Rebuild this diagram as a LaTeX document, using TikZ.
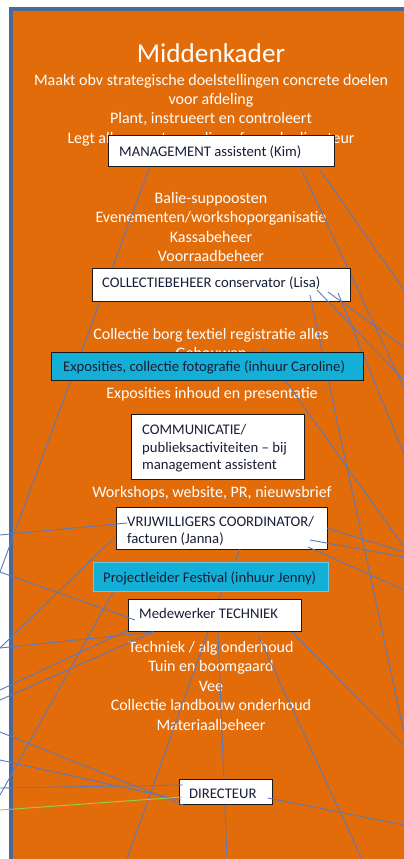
\documentclass[tikz,border=0pt]{standalone}
\usepackage{fontspec}
\setmainfont{Carlito}
\definecolor{bgorange}{RGB}{227,108,10}
\definecolor{frameblue}{RGB}{74,104,152}
\definecolor{connblue}{RGB}{88,122,190}
\definecolor{cyanbox}{RGB}{20,175,214}
\definecolor{cyanedge}{RGB}{100,205,235}
\definecolor{boxtext}{RGB}{25,30,55}
\definecolor{greenline}{RGB}{146,208,80}
\begin{document}
\begin{tikzpicture}[x=1pt,y=-1pt,
  wtxt/.style={text=white,font=\fontsize{16}{19}\selectfont,anchor=base,inner sep=0pt},
  ttl/.style={text=white,font=\fontsize{27.2}{30}\selectfont,anchor=base,inner sep=0pt},
  btxt/.style={text=boxtext,font=\fontsize{14.7}{17}\selectfont,anchor=base west,inner sep=0pt},
  wbox/.style={draw=black!90,fill=white,line width=1.2pt,anchor=north west,inner sep=0pt},
  cbox/.style={draw=black!90,fill=cyanbox,line width=1.2pt,anchor=north west,inner sep=0pt},
  cboxl/.style={draw=cyanedge,fill=cyanbox,line width=1pt,anchor=north west,inner sep=0pt},
  conn/.style={draw=connblue,line width=0.9pt},
  gconn/.style={draw=greenline,line width=0.9pt},
]
\useasboundingbox (0,0) rectangle (404,859);
\fill[white] (0,0) rectangle (404,859);
\path[fill=bgorange,draw=frameblue,line width=4pt] (10.5,9) rectangle (430,880);

% ---- texts
\node[ttl] (title) at (211,63) {Middenkader};
\node[wtxt] (m1) at (211,85) {Maakt obv strategische doelstellingen concrete doelen};
\node[wtxt] (m2) at (211,104.3) {voor afdeling};
\node[wtxt] (m3) at (211,123.6) {Plant, instrueert en controleert};
\node[wtxt] (m4) at (211,143) {Legt alle verantwoording af aan de directeur};
\node[wtxt] (b1) at (211,203) {Balie-suppoosten};
\node[wtxt] (b2) at (211,222.5) {Evenementen/workshoporganisatie};
\node[wtxt] (b3) at (211,242) {Kassabeheer};
\node[wtxt] (b4) at (211,261.5) {Voorraadbeheer};
\node[wtxt] (c1) at (211,339) {Collectie borg textiel registratie alles};
\node[wtxt] (c2) at (211,358.5) {Gebouwen};
\node[wtxt] (x1) at (212,398) {Exposities inhoud en presentatie};
\node[wtxt] (w1) at (212,497) {Workshops, website, PR, nieuwsbrief};
\node[wtxt] (tt1) at (211,652) {Techniek / alg onderhoud};
\node[wtxt] (tt2) at (211,671.5) {Tuin en boomgaard};
\node[wtxt] (tt3) at (211,691) {Vee};
\node[wtxt] (tt4) at (211,710.5) {Collectie landbouw onderhoud};
\node[wtxt] (tt5) at (211,730) {Materiaalbeheer};

% ---- connector points
\coordinate (k1) at (150,166); \coordinate (k2) at (300,166); \coordinate (k3) at (320,170);
\coordinate (oA) at (0,572); \coordinate (oB) at (404,388); \coordinate (oC) at (404,290);
\coordinate (l1) at (310,295); \coordinate (l2) at (317,290); \coordinate (l3) at (328,292); \coordinate (l4) at (338,293);
\coordinate (oD) at (404,733); \coordinate (oE) at (404,380); \coordinate (oF) at (404,347); \coordinate (oG) at (404,454);
\coordinate (e1) at (262,348); \coordinate (oH) at (404,547);
\coordinate (v1) at (127,523); \coordinate (v2) at (115,537); \coordinate (v3) at (240,549);
\coordinate (v4) at (327,528); \coordinate (v5) at (310,540); \coordinate (v6) at (308,547);
\coordinate (oI) at (404,552); \coordinate (oJ) at (404,557); \coordinate (oK) at (404,590);
\coordinate (t1) at (219,599); \coordinate (t2) at (208,632); \coordinate (t3) at (218,632);
\coordinate (t4) at (258,635); \coordinate (t5) at (288,628); \coordinate (t6) at (135,620);
\coordinate (t7) at (153,632); \coordinate (t8) at (128,630);
\coordinate (oL) at (227,859); \coordinate (oM) at (127,859); \coordinate (oN) at (362,859); \coordinate (oO) at (404,745);
\coordinate (oP) at (0,535); \coordinate (oQ) at (0,648); \coordinate (oR) at (0,690); \coordinate (oS) at (0,700);
\coordinate (oT) at (0,572); \coordinate (p1) at (113,592); \coordinate (oU) at (0,795);
\coordinate (d1) at (183,805); \coordinate (d2) at (181,800); \coordinate (d3) at (183,785); \coordinate (d4) at (182,797); \coordinate (d5) at (268,798);
\coordinate (oV) at (0,732); \coordinate (oW) at (0,760); \coordinate (oX) at (0,788); \coordinate (oY) at (0,810); \coordinate (oZ) at (404,825);

% ---- group A (behind upper boxes)
\draw[conn] (k1) -- (oA);
\draw[conn] (k2) -- (oB);
\draw[conn] (k3) -- (oC);

\node[wbox,minimum width=226pt,minimum height=31pt] (kim) at (108,135) {};
\node[btxt] (kimt) at (119,156) {MANAGEMENT assistent (Kim)};
\node[wbox,minimum width=258pt,minimum height=33pt] (lisa) at (92,268) {};
\node[btxt] (lisat) at (102,287) {COLLECTIEBEHEER conservator (Lisa)};

% ---- group B
\draw[conn] (l1) -- (oD);
\draw[conn] (l2) -- (oE);
\draw[conn] (l3) -- (oF);
\draw[conn] (l4) -- (oG);
\draw[conn] (e1) -- (oH);

\node[cbox,minimum width=312pt,minimum height=28pt] (expo) at (51,352) {};
\node[btxt] (expot) at (63,371) {Exposities, collectie fotografie (inhuur Caroline)};
\node[wbox,minimum width=173pt,minimum height=65pt] (comm) at (131,414) {};
\node[btxt] (comm1) at (142,434) {COMMUNICATIE/};
\node[btxt] (comm2) at (142,452) {publieksactiviteiten -- bij};
\node[btxt] (comm3) at (142,469.5) {management assistent};
\node[wbox,minimum width=211pt,minimum height=42pt] (vrij) at (116,507) {};
\node[btxt] (vrij1) at (127,526) {VRIJWILLIGERS COORDINATOR/};
\node[btxt] (vrij2) at (127,543) {facturen (Janna)};

% ---- group C
\draw[conn] (v3) -- (t1);
\draw[conn] (v4) -- (oI);
\draw[conn] (v5) -- (oJ);
\draw[conn] (v6) -- (oK);
\draw[conn] (t3) -- (oL);
\draw[conn] (t2) -- (oM);
\draw[conn] (t4) -- (oN);
\draw[conn] (t5) -- (oO);

\node[cboxl,minimum width=235pt,minimum height=29pt] (proj) at (93,562) {};
\node[btxt] (projt) at (103,582) {Projectleider Festival (inhuur Jenny)};
\node[wbox,minimum width=173pt,minimum height=32pt] (tech) at (128,599) {};
\node[btxt] (techt) at (139,618) {Medewerker TECHNIEK};
\node[wbox,minimum width=93pt,minimum height=25pt] (dir) at (179,779) {};
\node[btxt] (dirt) at (189,798) {DIRECTEUR};

% ---- group D (on top)
\draw[conn] (oP) -- (v1);
\draw[conn] (v2) -- (oQ);
\draw[conn] (oQ) -- (t7);
\draw[conn] (oR) -- (t8);
\draw[conn] (oS) -- (t7);
\draw[conn] (oT) -- (t6);
\draw[conn] (p1) -- (oU);
\draw[conn] (oV) -- (d1);
\draw[conn] (oW) -- (d2);
\draw[conn] (oX) -- (d3);
\draw[gconn] (oY) -- (d4);
\draw[conn] (d5) -- (oZ);
\end{tikzpicture}
\end{document}
